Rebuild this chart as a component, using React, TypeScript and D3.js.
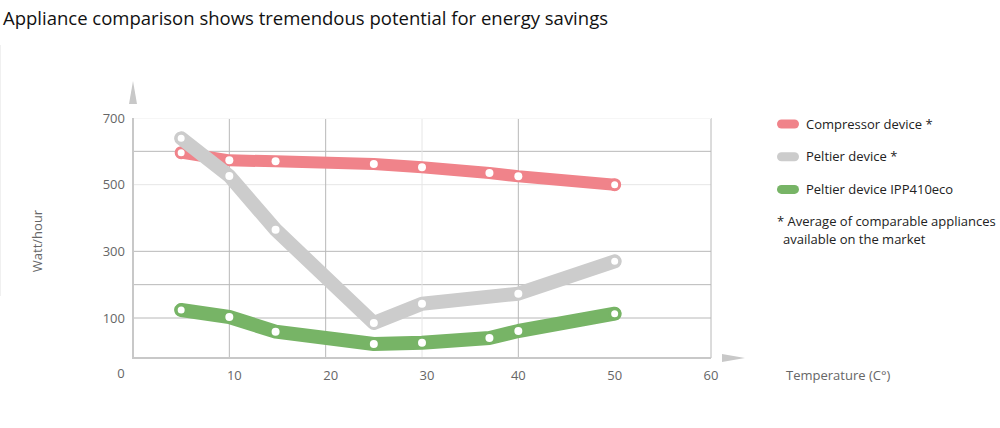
import React from 'react';
import * as d3 from 'd3';

// Temperatures (°C) where the markers sit
const tempsRed = [5, 10, 14.8, 25, 30, 37, 40, 50];
const wattsRed = [596, 573, 570, 562, 552, 535, 525, 500];

const tempsGray = [5, 10, 14.8, 25, 30, 40, 50];
const wattsGray = [639, 526, 365, 85, 143, 173, 270];

const tempsGreen = [5, 10, 14.8, 25, 30, 37, 40, 50];
const wattsGreen = [124, 103, 59, 22, 26, 40, 61, 113];

const xTicks = [10, 20, 30, 40, 50, 60];
const yTickLabels = [100, 300, 500, 700];
const hGrid = [100, 200, 300, 500, 600];
const vGrid = [10, 20, 30, 40, 60];

const legendItems = ['Compressor device *', 'Peltier device *', 'Peltier device IPP410eco'];

const FONT = '"Open Sans", sans-serif';

const App: React.FC = () => {
  const width = 1000;
  const height = 428;

  const x = d3.scaleLinear().domain([0, 60]).range([133, 711]);
  const y = d3.scaleLinear().domain([-20, 700]).range([358, 118]);

  const series = [
    { t: tempsRed, v: wattsRed, color: '#f0838a', w: 12 },
    { t: tempsGray, v: wattsGray, color: '#cccccc', w: 14 },
    { t: tempsGreen, v: wattsGreen, color: '#77b466', w: 14 },
  ];

  const line = (s: typeof series[number]) =>
    d3.line<number>()
      .x((_, i) => x(s.t[i]))
      .y((d) => y(d))(s.v) || '';

  const arrowUp = `M${x(0) - 4},104 L${x(0)},81 L${x(0) + 4},104 Z`;
  const arrowRight = `M722,354 L745,358 L722,362 Z`;

  return (
    <svg width={width} height={height} style={{ position: 'absolute', left: 0, top: 0 }} fontFamily={FONT}>
      <rect width={width} height={height} fill="#fff" />
      <text x={3} y={25} fontSize={18.5} fill="#111">
        Appliance comparison shows tremendous potential for energy savings
      </text>
      <line x1={0.5} x2={0.5} y1={45} y2={296} stroke="#f0f0f0" />

      {/* grid */}
      {hGrid.map((g) => (
        <line key={'h' + g} x1={x(0)} x2={x(60)} y1={y(g)} y2={y(g)}
          stroke={g === 500 ? '#e6e6e6' : '#b8b8b8'} strokeWidth={1} />
      ))}
      {vGrid.map((g) => (
        <line key={'v' + g} x1={x(g)} x2={x(g)} y1={y(700)} y2={y(-20)}
          stroke={g === 30 ? '#e6e6e6' : '#b8b8b8'} strokeWidth={1} />
      ))}
      <line x1={x(0)} x2={x(60)} y1={y(700) + 0.5} y2={y(700) + 0.5} stroke="#f6f6f6" />

      {/* axes */}
      <line x1={x(0)} x2={x(0)} y1={y(700)} y2={y(-20) + 1} stroke="#c8c8c8" strokeWidth={2} />
      <line x1={x(0)} x2={x(60)} y1={y(-20)} y2={y(-20)} stroke="#c8c8c8" strokeWidth={2} />
      <path d={arrowUp} fill="#c8c8c8" />
      <path d={arrowRight} fill="#c8c8c8" />

      {/* tick labels */}
      {yTickLabels.map((t) => (
        <text key={'yt' + t} x={125} y={y(t)} dy="0.35em" textAnchor="end" fontSize={13} fill="#666">
          {t}
        </text>
      ))}
      <text x={121} y={373} dy="0.35em" textAnchor="middle" fontSize={13} fill="#666">0</text>
      {xTicks.map((t) => (
        <text key={'xt' + t} x={x(t) + (t < 40 ? 5 : 0)} y={375} dy="0.35em" textAnchor="middle" fontSize={13} fill="#666">
          {t}
        </text>
      ))}
      <text x={786} y={375} dy="0.35em" fontSize={13} fill="#666">Temperature (C°)</text>
      <text transform="translate(37,241) rotate(-90)" textAnchor="middle" dy="0.35em" fontSize={13} fill="#666">
        Watt/hour
      </text>

      {/* series */}
      {series.map((s, si) => (
        <g key={'s' + si}>
          <path d={line(s)} fill="none" stroke={s.color} strokeWidth={s.w}
            strokeLinecap="round" strokeLinejoin="round" />
          {s.v.map((v, i) => {
            const end = i === 0 || i === s.v.length - 1;
            return (
              <circle key={i} cx={x(s.t[i])} cy={y(v)} r={end ? 5 : 4}
                fill="#fff" stroke={end ? s.color : 'none'} strokeWidth={end ? 3 : 0} />
            );
          })}
        </g>
      ))}

      {/* legend */}
      {legendItems.map((name, i) => (
        <g key={name} transform={`translate(777,${124 + i * 32.7})`}>
          <rect x={0} y={-4.5} width={22} height={9} rx={4.5} fill={series[i].color} />
          <text x={29} y={0} dy="0.35em" fontSize={13} fill="#222">{name}</text>
        </g>
      ))}
      <text x={777} y={221} dy="0.35em" fontSize={13} fill="#222">* Average of comparable appliances</text>
      <text x={783} y={239} dy="0.35em" fontSize={13} fill="#222">available on the market</text>
    </svg>
  );
};

export default App;
